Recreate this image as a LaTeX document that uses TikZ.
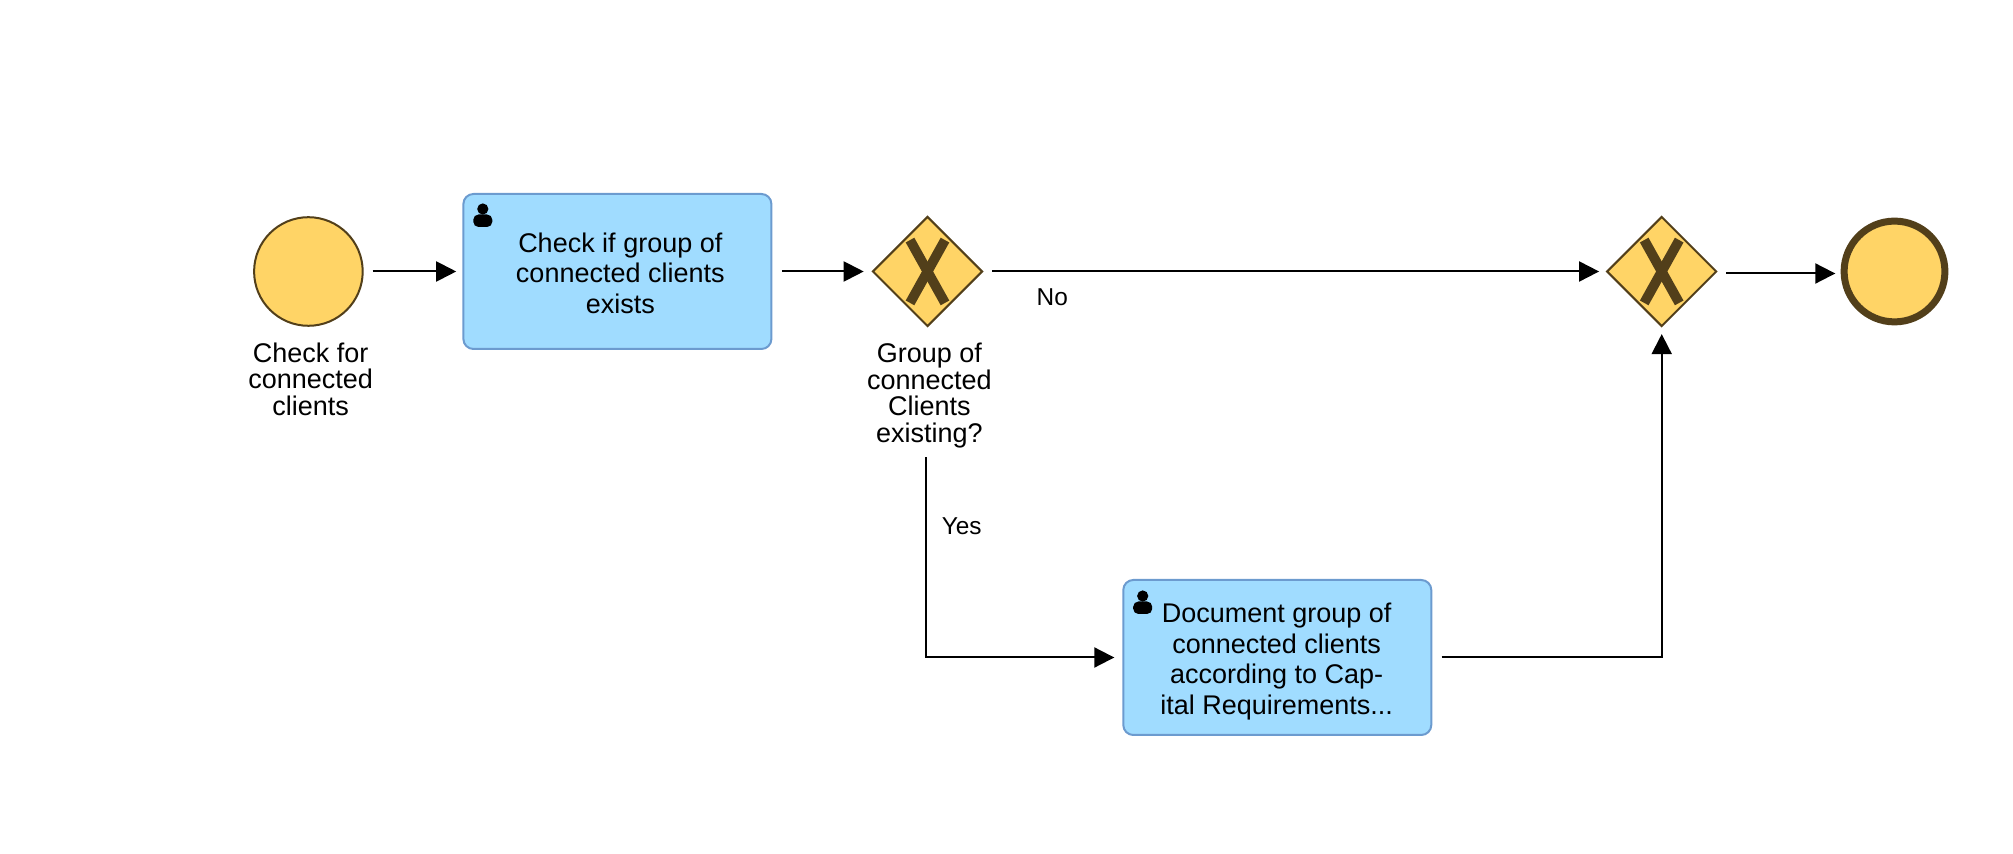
\documentclass[tikz,border=0pt]{standalone}
\usepackage{fontspec}
\setmainfont{Liberation Sans}
\usetikzlibrary{shapes.geometric,arrows.meta}
\definecolor{evfill}{HTML}{FFD466}
\definecolor{evline}{HTML}{523F1A}
\definecolor{taskfill}{HTML}{A0DCFF}
\definecolor{taskline}{HTML}{6C9BCF}
\tikzset{
  event/.style={circle,draw=evline,fill=evfill,line width=1pt,minimum size=54.3pt,inner sep=0pt,outer sep=0pt},
  endevent/.style={circle,draw=evline,fill=evfill,line width=3.5pt,minimum size=50.4pt,inner sep=0pt,outer sep=0pt},
  gateway/.style={diamond,aspect=1,draw=evline,fill=evfill,line width=1pt,minimum size=54.6pt,inner sep=0pt,outer sep=0pt},
  xbar/.style={evline,line width=4.9pt},
  task/.style={rectangle,rounded corners=5pt,draw=taskline,fill=taskfill,line width=1pt,minimum width=154pt,minimum height=77.5pt,inner sep=0pt,outer sep=0pt},
  tasktext/.style={align=center,font=\fontsize{13.5pt}{15.25pt}\selectfont,inner sep=0pt,anchor=center},
  evtext/.style={align=center,font=\fontsize{13.5pt}{13.25pt}\selectfont,inner sep=0pt,anchor=center},
  edgetext/.style={font=\fontsize{12.2pt}{14pt}\selectfont,inner sep=0pt,anchor=base},
  flow/.style={draw=black,line width=1pt,-{Triangle[length=10pt,width=10pt]}},
  usericon/.style={fill=black}
}
\newcommand{\usermark}[2]{%
  \fill[usericon] (#1,#2) circle (2.8pt);
  \fill[usericon,rounded corners=2.6pt] (#1-9.5,#2+18) rectangle (#1+9.5,#2+5.5);
}
\newcommand{\xmark}[1]{%
  \draw[xbar] ([shift={(-8.75pt,15.7pt)}]#1.center) -- ([shift={(8.75pt,-15.7pt)}]#1.center);
  \draw[xbar] ([shift={(8.75pt,15.7pt)}]#1.center) -- ([shift={(-8.75pt,-15.7pt)}]#1.center);
}
\begin{document}
\begin{tikzpicture}[x=0.5pt,y=-0.5pt]
\useasboundingbox (0,0) rectangle (2013,854);
% nodes
\node[event] (start) at (308.4,271.5) {};
\node[task] (task1) at (617.4,271.5) {};
\node[gateway] (gw1) at (927.5,271.5) {};
\node[gateway] (gw2) at (1661.7,271.5) {};
\node[endevent] (end) at (1894.5,271.5) {};
\node[task] (task2) at (1277.3,657.5) {};
% texts
\node[evtext] (startlabel) at (310.7,379.3) {Check for\\connected\\clients};
\node[tasktext] (task1text) at (620.3,273.3) {Check if group of\\connected clients\\exists};
\node[evtext] (gw1label) at (929.3,395.5) {Group of\\connected\\Clients\\existing?};
\node[tasktext] (task2text) at (1276.7,661.5) {Document group of\\connected clients\\according to Cap-\\ital Requirements...};
% icons and gateway marks
\usermark{482.8}{209}
\usermark{1142.7}{596}
\xmark{gw1}
\xmark{gw2}
% connectors
\draw[flow,shorten <=4.9pt,shorten >=3.6pt] (start.east) -- (task1.west);
\draw[flow,shorten <=5.2pt,shorten >=4.6pt] (task1.east) -- (gw1.west);
\draw[flow,shorten <=5.1pt,shorten >=4pt] (gw1.east) -- (gw2.west);
\draw[flow,shorten <=5pt,shorten >=4.4pt] ([yshift=-1pt]gw2.east) -- ([yshift=-1pt]end.west);
\draw[flow,shorten <=65.5pt,shorten >=4.5pt] ([xshift=-.6pt]gw1.south) |- (task2.west);
\draw[flow,shorten <=5.2pt,shorten >=4pt] (task2.east) -| (gw2.south);
% edge labels
\node[edgetext] (nolabel) at (1052.3,306) {No};
\node[edgetext] (yeslabel) at (961.7,534.5) {Yes};
\end{tikzpicture}
\end{document}
